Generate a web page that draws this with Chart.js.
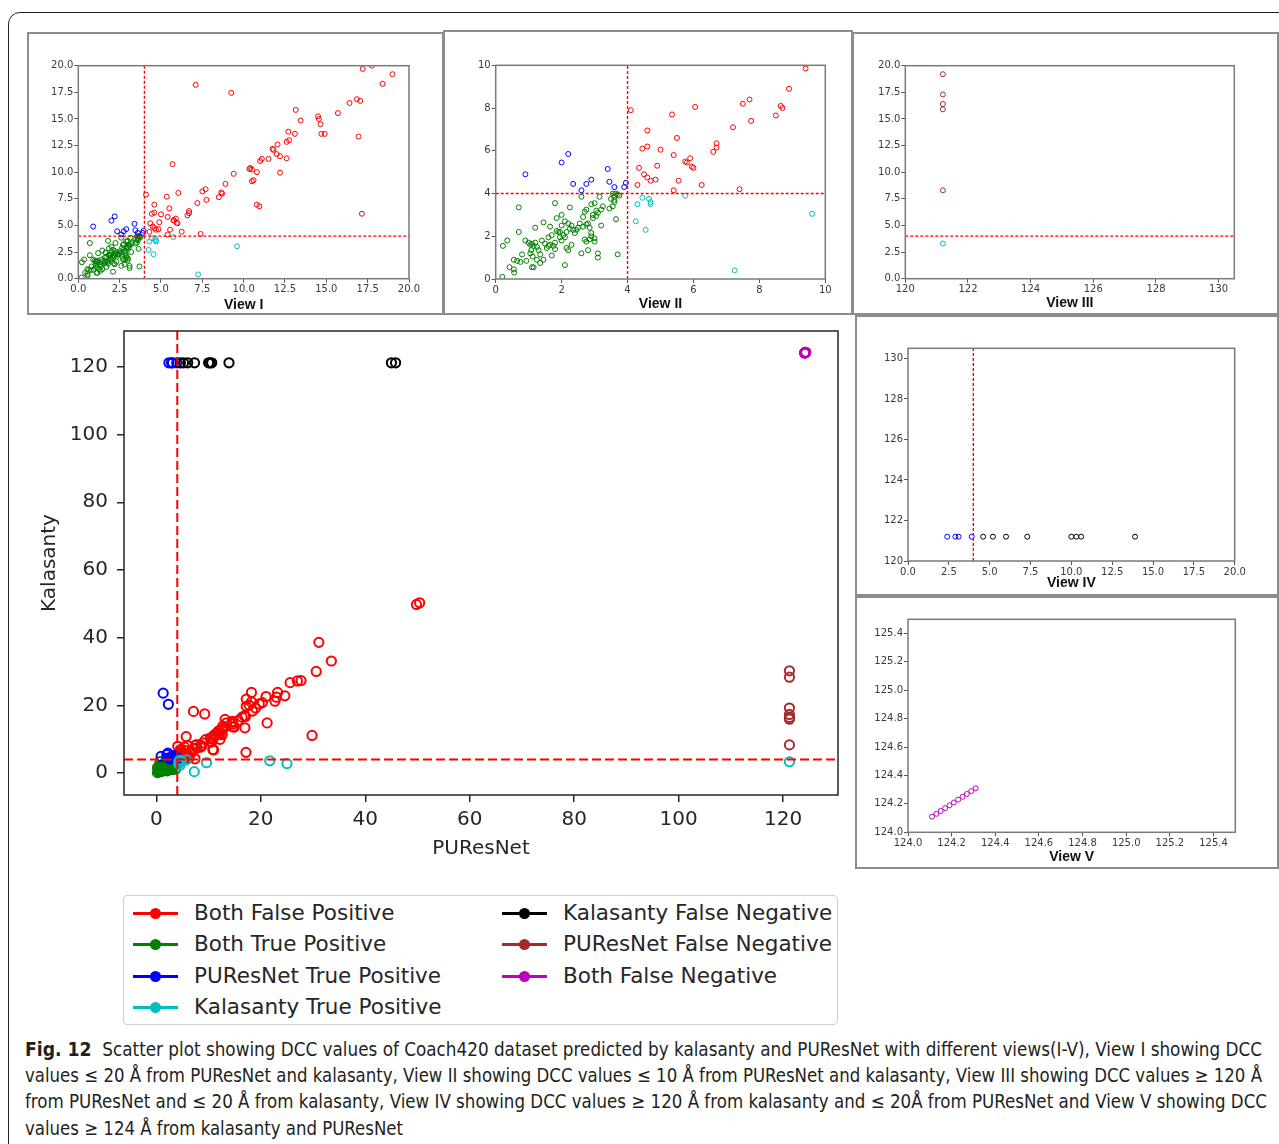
<!DOCTYPE html>
<html><head><meta charset="utf-8">
<script src="https://cdn.jsdelivr.net/npm/chart.js@4/dist/chart.umd.min.js"></script>
<style>
html,body{margin:0;padding:0;background:#fff;}
body{width:1279px;height:1144px;position:relative;overflow:hidden;font-family:"DejaVu Sans",sans-serif;}
#outer{position:absolute;left:8px;top:12px;width:1320px;height:1220px;border:1.5px solid #222;border-radius:12px;box-sizing:border-box;}
.frame{position:absolute;border:2px solid #8c8c8c;box-sizing:border-box;}
#legend{position:absolute;left:123px;top:895px;width:715px;height:130px;border:1.5px solid #cfcfcf;border-radius:4px;box-sizing:border-box;background:#fff;}
.lg{position:absolute;height:20px;}
.lg .ln{position:absolute;left:0;top:8px;width:45px;height:3px;}
.lg .dt{position:absolute;left:17px;top:4px;width:11px;height:11px;border-radius:50%;}
.lg .tx{position:absolute;left:61px;top:-4px;font-size:21.5px;color:#262626;white-space:nowrap;line-height:26px;}
.cap{position:absolute;left:25px;height:26px;line-height:26px;font-size:19.5px;color:#231f20;font-family:"Liberation Sans Narrow","DejaVu Sans Condensed","Noto Sans",sans-serif;}
.cap span{display:inline-block;white-space:nowrap;transform-origin:0 50%;}
</style>
</head>
<body>
<div id="outer"></div>
<div class="frame" style="left:27px;top:32px;width:417px;height:283px"></div>
<div class="frame" style="left:443px;top:30px;width:410px;height:285px"></div>
<div class="frame" style="left:852px;top:32px;width:427px;height:283px"></div>
<div class="frame" style="left:855px;top:315px;width:424px;height:281px"></div>
<div class="frame" style="left:855px;top:596px;width:424px;height:273px"></div>
<div id="legend"></div>
<div class="cap" style="top:1036px" data-w="1237"><span><b style="font-size:20px">Fig. 12</b>&nbsp; Scatter plot showing DCC values of Coach420 dataset predicted by kalasanty and PUResNet with different views(I-V), View I showing DCC</span></div>
<div class="cap" style="top:1063px" data-w="1237"><span>values ≤ 20 Å from PUResNet and kalasanty, View II showing DCC values ≤ 10 Å from PUResNet and kalasanty, View III showing DCC values ≥ 120 Å</span></div>
<div class="cap" style="top:1089px" data-w="1242"><span>from PUResNet and ≤ 20 Å from kalasanty, View IV showing DCC values ≥ 120 Å from kalasanty and ≤ 20Å from PUResNet and View V showing DCC</span></div>
<div class="cap" style="top:1116px" data-w="378"><span>values ≥ 124 Å from kalasanty and PUResNet</span></div>
<script>
// ---------------- DATA ----------------
const seriesNames = ['Both False Positive','Both True Positive','PUResNet True Positive','Kalasanty True Positive','Kalasanty False Negative','PUResNet False Negative','Both False Negative'];
const seriesColors = ['#ff0000','#008000','#0000ff','#00bfbf','#000000','#a52a2a','#bf00bf'];

const bothFalsePositive = [
[4.1,7.9],[4.6,6.95],[4.45,6.1],[4.6,6.2],[4.35,5.2],[4.5,4.9],[4.6,4.75],[4.7,4.6],[4.85,4.65],[4.9,5.3],[5.0,6.05],[5.35,7.7],[5.4,5.8],[5.5,6.6],[5.55,4.6],[5.4,4.15],[4.3,4.4],
[5.7,10.75],[5.8,5.45],[5.9,5.65],[5.75,5.5],[5.95,5.25],[6.0,5.2],[6.05,8.05],[6.25,4.4],[6.7,6.15],[6.7,6.35],[6.6,5.95],[7.1,18.2],[7.2,7.1],[7.4,4.2],[7.5,8.2],[7.7,8.4],[7.75,7.4],
[8.5,7.65],[8.65,8.1],[8.7,8.0],[8.9,8.9],[9.25,17.45],[9.4,9.85],[10.35,10.3],[10.4,10.4],[10.5,10.25],[10.5,9.15],[10.6,9.25],[10.8,10.0],[10.8,6.95],[10.95,6.8],[11.0,11.05],[11.1,11.25],
[11.5,11.25],[11.75,12.2],[11.8,12.1],[12.0,11.7],[12.05,12.6],[12.2,11.5],[12.2,9.95],[12.6,11.3],[12.6,12.85],[12.75,13.0],[12.7,13.8],[13.1,13.6],[13.15,15.85],[13.45,14.85],
[14.5,15.25],[14.55,15.0],[14.65,14.5],[14.7,13.6],[14.9,13.6],[15.7,15.55],[16.4,16.5],[16.85,16.85],[17.05,16.7],[16.95,13.35],[17.15,6.1],[17.2,19.7],[17.75,20.0],[18.4,18.3],[19.0,19.2],
[17.2,21.8],[18.2,21.0],[18.2,23.8],[19.7,20.4],[20.3,20.8],[21.0,22.6],[21.2,14.8],[22.7,21.2],[23.0,22.4],[23.2,23.8],[24.6,22.8],[25.6,26.7],[27.0,27.2],[27.7,27.3],
[29.8,11.1],[30.6,30.0],[31.1,38.6],[33.5,33.1],[49.8,49.8],[50.4,50.3]
];
const bothTruePositive = [
[0.2,0.1],[0.22,1.55],[0.35,1.8],[0.42,0.55],[0.55,0.45],[0.56,0.3],[0.55,0.9],[0.65,0.85],[0.7,3.35],[0.7,2.2],[0.75,0.8],[0.8,1.15],[0.9,1.8],[0.93,0.85],
[1.0,1.7],[1.05,1.6],[1.1,1.65],[1.15,1.55],[1.08,1.35],[1.05,1.2],[1.12,1.05],[1.2,1.7],[1.25,1.5],
[1.1,0.55],[1.15,0.55],[1.2,2.4],[1.25,0.9],[1.35,1.15],[1.4,1.8],[1.45,2.65],[1.45,0.9],[1.3,1.35],[1.35,0.75],
[1.55,1.45],[1.6,1.55],[1.65,1.6],[1.65,2.45],[1.7,1.1],[1.75,1.55],[1.8,1.4],[1.8,1.7],[1.8,3.55],[1.5,1.65],[1.6,1.95],[1.7,2.05],
[1.85,2.25],[1.9,2.2],[1.95,2.2],[1.85,2.85],[2.0,1.8],[2.05,2.05],[2.1,1.95],[2.15,2.2],[2.0,3.0],[2.1,0.65],[2.15,1.45],[2.2,1.35],
[2.2,2.6],[2.25,2.35],[2.3,2.5],[2.25,3.35],[2.35,2.3],[2.4,2.15],[2.45,2.3],[2.5,2.4],[2.55,2.6],[2.3,1.6],[2.0,2.5],[2.1,2.7],[1.95,1.95],
[2.6,3.85],[2.6,1.2],[2.65,2.9],[2.7,3.15],[2.75,3.25],[2.7,1.85],[2.75,1.75],[2.8,1.35],[2.65,2.45],[2.75,2.55],[2.8,2.6],[2.85,2.4],[2.9,2.0],[2.85,1.85],[2.9,2.15],[2.9,3.5],[2.95,3.0],
[3.0,3.55],[3.05,3.2],[3.1,3.1],[3.1,1.2],[3.1,1.0],[3.15,3.85],[3.2,2.5],[3.2,3.25],[3.25,3.4],[3.0,1.75],[3.0,1.9],[2.95,2.85],[3.05,2.95],
[3.45,3.3],[3.55,3.4],[3.6,3.6],[3.6,3.7],[3.65,4.0],[3.7,3.95],[3.75,3.9],[3.65,2.8],[3.7,1.15],[3.55,4.0],[3.6,3.85],[3.5,3.75]
];
const puresnetTruePositive = [
[0.9,4.9],[2.0,5.45],[2.2,5.85],[2.35,4.45],[2.6,4.15],[2.75,4.45],[2.9,4.65],[3.4,5.15],[3.45,4.55],[3.6,4.3],[3.9,4.3],[3.95,4.5],
[1.3,23.6],[2.3,20.3],[2.4,121.2],[2.9,121.2],[3.1,121.2],[3.9,121.2]
];
const kalasantyTruePositive = [
[4.25,2.7],[4.3,3.5],[4.45,3.8],[4.55,2.3],[4.65,3.75],[4.7,3.6],[4.7,3.5],[5.75,3.9],[7.25,0.4],[9.6,3.05],[21.7,3.6],[25.0,2.8],[121.2,3.3]
];
const kalasantyFalseNegative = [
[4.6,121.2],[5.2,121.2],[6.0,121.2],[7.3,121.2],[10.0,121.2],[10.3,121.2],[10.6,121.2],[13.9,121.2],[45.0,121.2],[45.8,121.2]
];
const puresnetFalseNegative = [
[121.2,30.2],[121.2,28.3],[121.2,19.2],[121.2,17.3],[121.2,16.4],[121.2,15.9],[121.2,8.3]
];
const bothFalseNegative = [
[124.11,124.11],[124.13,124.13],[124.15,124.15],[124.17,124.17],[124.19,124.19],[124.21,124.21],[124.23,124.23],[124.25,124.25],[124.27,124.27],[124.29,124.29],[124.31,124.31]
];
const seriesData = [bothFalsePositive,bothTruePositive,puresnetTruePositive,kalasantyTruePositive,kalasantyFalseNegative,puresnetFalseNegative,bothFalseNegative];

const threshold = 4;   // DCC threshold (Å), dashed red lines

// tick values
const mainTicks = [0,20,40,60,80,100,120];
const ticks0to20 = [0,2.5,5,7.5,10,12.5,15,17.5,20];
const ticks0to10 = [0,2,4,6,8,10];
const ticks120to130 = [120,122,124,126,128,130];
const ticks124to125 = [124.0,124.2,124.4,124.6,124.8,125.0,125.2,125.4];

// ---------------- HELPERS ----------------
const pts = a => a.map(p => ({x:p[0], y:p[1]}));

const spinePlugin = {
  id:'spines',
  afterDatasetsDraw(chart, args, opts){
    const a = chart.chartArea, c = chart.ctx;
    c.save(); c.strokeStyle = opts.color; c.lineWidth = opts.width;
    c.strokeRect(a.left, a.top, a.right - a.left, a.bottom - a.top);
    c.restore();
  }
};

function makeChart(cfg){
  const [fl,ft,fw,fh] = cfg.frame;
  const [al,at,ar,ab] = cfg.area;
  const cv = document.createElement('canvas');
  cv.width = fw; cv.height = fh;
  cv.style.cssText = `position:absolute;left:${fl}px;top:${ft}px;width:${fw}px;height:${fh}px`;
  document.body.appendChild(cv);
  const yW = al - fl, padT = at - ft, padR = fl + fw - ar, xH = ft + fh - ab;

  const datasets = seriesData.map((d,i)=>({
    label: seriesNames[i], data: pts(d),
    borderColor: seriesColors[i], backgroundColor:'rgba(0,0,0,0)',
    pointRadius: cfg.r, pointHoverRadius: cfg.r, pointBorderWidth: cfg.bw, borderWidth: cfg.bw,
    showLine:false, clip:0, order: 20 - i
  }));
  // threshold lines, endpoints at the axis limits
  datasets.push({label:'thrV', data:[{x:threshold,y:cfg.y[0]},{x:threshold,y:cfg.y[1]}], showLine:true,
    borderColor:'#ff0000', borderWidth:cfg.lw, borderDash:cfg.dash, pointRadius:0, clip:0, order:0});
  datasets.push({label:'thrH', data:[{x:cfg.x[0],y:threshold},{x:cfg.x[1],y:threshold}], showLine:true,
    borderColor:'#ff0000', borderWidth:cfg.lw, borderDash:cfg.dash, pointRadius:0, clip:0, order:0});

  const tickFont = {family:'DejaVu Sans', size:cfg.fs};
  const axis = (lim, tv, dec, isX) => ({
    type:'linear', min:lim[0], max:lim[1],
    afterBuildTicks: s => { s.ticks = tv.map(v=>({value:v})); },
    afterFit: s => { if (isX) s.height = xH; else s.width = yW; },
    ticks:{autoSkip:false, maxRotation:0, minRotation:0, font:tickFont, color:cfg.tc, padding:isX?cfg.xpad:cfg.ypad,
      callback: v => Number(v).toFixed(dec)},
    grid:{drawOnChartArea:false, drawTicks:true, tickLength:cfg.tl, color:cfg.gc, lineWidth:cfg.gw},
    border:{display:false},
    title: isX ? (cfg.xt ? {display:true, text:cfg.xt, font:cfg.xtFont, color:cfg.xtColor, padding:{top:0,bottom:cfg.xtPad}} : {display:false})
               : (cfg.yt ? {display:true, text:cfg.yt, font:cfg.ytFont, color:cfg.xtColor, padding:{top:cfg.ytPad,bottom:0}} : {display:false})
  });

  return new Chart(cv, {
    type:'scatter',
    data:{datasets},
    options:{
      responsive:false, animation:false, devicePixelRatio:1,
      layout:{padding:{left:0, top:padT, right:padR, bottom:0}},
      plugins:{legend:{display:false}, tooltip:{enabled:false}, spines:{color:cfg.sc, width:cfg.sw}},
      scales:{ x: axis(cfg.x, cfg.xticks, cfg.xdec, true), y: axis(cfg.y, cfg.yticks, cfg.ydec, false) }
    },
    plugins:[spinePlugin]
  });
}

const viewStyle = {r:2.5, bw:1, lw:1.4, dash:[3,2], fs:10, tc:'#3a3a3a', tl:4, gc:'#555', gw:1, xpad:1, ypad:1, sc:'#7a7a7a', sw:1.5,
  xtFont:{family:'Liberation Sans', size:14, weight:'bold', lineHeight:1.0}, xtColor:'#111'};

// View I
makeChart(Object.assign({}, viewStyle, {frame:[27,32,416,282], area:[78.3,65.7,409,278.7], x:[0,20], y:[0,20],
  xticks:ticks0to20, yticks:ticks0to20, xdec:1, ydec:1, xt:'View I', xtPad:2}));
// View II
makeChart(Object.assign({}, viewStyle, {frame:[443,30,409,284], area:[495.7,65.3,825.3,279], x:[0,10], y:[0,10],
  xticks:ticks0to10, yticks:ticks0to10, xdec:0, ydec:0, xt:'View II', xtPad:3}));
// View III
makeChart(Object.assign({}, viewStyle, {frame:[852,32,425,282], area:[905.3,65.7,1234.3,278.7], x:[120,130.5], y:[0,20],
  xticks:ticks120to130, yticks:ticks0to20, xdec:0, ydec:1, xt:'View III', xtPad:4}));
// View IV
makeChart(Object.assign({}, viewStyle, {frame:[855,315,422,280], area:[908,348.3,1234.7,561], x:[0,20], y:[120,130.5],
  xticks:ticks0to20, yticks:ticks120to130, xdec:1, ydec:0, xt:'View IV', xtPad:5}));
// View V
makeChart(Object.assign({}, viewStyle, {frame:[855,597,422,271], area:[908,619.3,1235.3,832.3], x:[124,125.5], y:[124,125.5],
  xticks:ticks124to125, yticks:ticks124to125, xdec:1, ydec:1, xt:'View V', xtPad:4}));

// Main plot
makeChart({frame:[20,300,835,575], area:[124,331,838,795], x:[-6.2,130.5], y:[-6.5,130.6],
  xticks:mainTicks, yticks:mainTicks, xdec:0, ydec:0,
  r:4.6, bw:2, lw:2, dash:[9,4], fs:20, tc:'#262626', tl:7, gc:'#262626', gw:1.5, xpad:6, ypad:9, sc:'#262626', sw:1.5,
  xt:'PUResNet', xtFont:{family:'DejaVu Sans', size:20, lineHeight:1.2}, xtColor:'#262626', xtPad:14,
  yt:'Kalasanty', ytFont:{family:'DejaVu Sans', size:20, lineHeight:1.2}, ytPad:18});

// Legend (column-major, 4 rows)
const lg = document.getElementById('legend');
const rowsY = [8,39,71,102];
seriesNames.forEach((n,i)=>{
  const col = i < 4 ? 0 : 1, row = i < 4 ? i : i - 4;
  const e = document.createElement('div');
  e.className = 'lg';
  e.style.left = (col ? 378 : 9) + 'px';
  e.style.top = rowsY[row] + 'px';
  e.innerHTML = `<div class="ln" style="background:${seriesColors[i]}"></div><div class="dt" style="background:${seriesColors[i]}"></div><div class="tx">${n}</div>`;
  lg.appendChild(e);
});

// fit caption lines to their measured widths
document.querySelectorAll('.cap').forEach(el=>{
  const sp = el.querySelector('span');
  const w = sp.getBoundingClientRect().width;
  sp.style.transform = `scaleX(${(+el.dataset.w)/w})`;
});
</script>
</body></html>
